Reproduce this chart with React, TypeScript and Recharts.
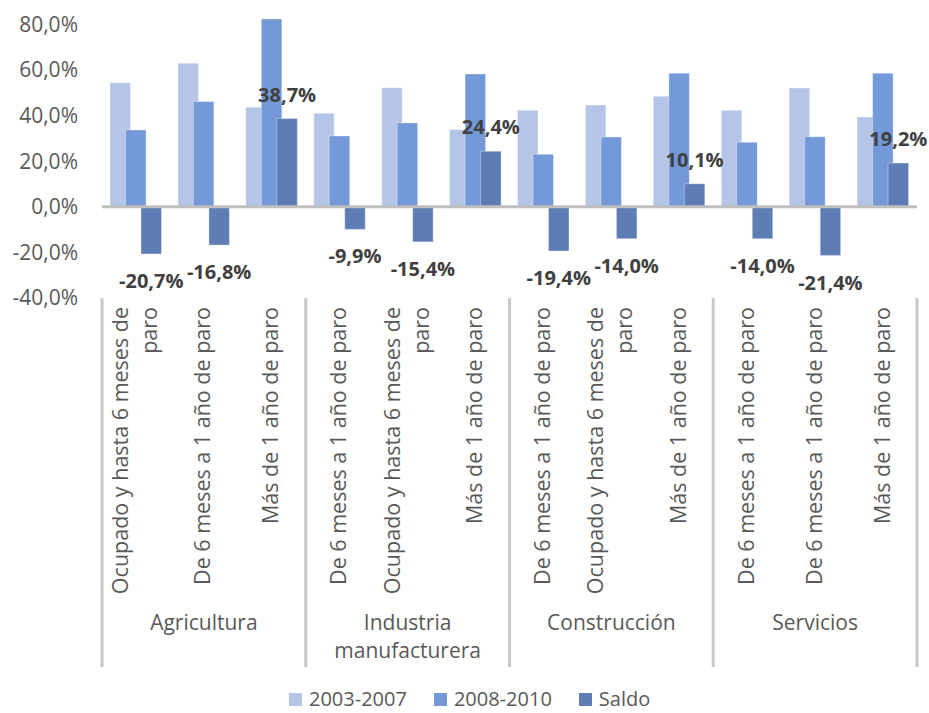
import { BarChart, Bar, XAxis, YAxis, ReferenceLine, Legend, LabelList } from "recharts";

const groups = ["Agricultura", "Industria manufacturera", "Construcción", "Servicios"];

const categories = [
  "Ocupado y hasta 6 meses de paro",
  "De 6 meses a 1 año de paro",
  "Más de 1 año de paro",
  "De 6 meses a 1 año de paro",
  "Ocupado y hasta 6 meses de paro",
  "Más de 1 año de paro",
  "De 6 meses a 1 año de paro",
  "Ocupado y hasta 6 meses de paro",
  "Más de 1 año de paro",
  "De 6 meses a 1 año de paro",
  "De 6 meses a 1 año de paro",
  "Más de 1 año de paro",
];

const periodo1 = [54.4, 63.0, 43.7, 41.0, 52.2, 33.9, 42.4, 44.6, 48.5, 42.3, 52.1, 39.4];
const periodo2 = [33.7, 46.2, 82.4, 31.1, 36.8, 58.3, 23.0, 30.6, 58.6, 28.3, 30.7, 58.6];
const saldo = [-20.7, -16.8, 38.7, -9.9, -15.4, 24.4, -19.4, -14.0, 10.1, -14.0, -21.4, 19.2];

const yTicks = [-40, -20, 0, 20, 40, 60, 80];

const seriesNames = ["2003-2007", "2008-2010", "Saldo"];
const colors = ["#b4c5e8", "#7399d8", "#5f7db5"];

const data = categories.map((c, i) => ({
  key: `${i}`,
  cat: c,
  group: groups[Math.floor(i / 3)],
  p1: periodo1[i],
  p2: periodo2[i],
  saldo: saldo[i],
}));

const FONT = "'Open Sans', sans-serif";
const fmt = (v: number) => `${v.toFixed(1).replace(".", ",")}%`;

// wrap long category names into two lines, last word on its own line
const wrap = (s: string) => {
  if (s.length <= 27) return [s];
  const k = s.lastIndexOf(" ");
  return [s.slice(0, k), s.slice(k + 1)];
};

const CategoryTick = (props: any) => {
  const { x, y, payload } = props;
  const i = payload.index;
  const half = payload.offset ?? 34;
  const lines = wrap(categories[i]);
  const top = y + 9;
  const sep = "#c8c8c8";
  const groupLines = i % 3 === 1 ? groups[Math.floor(i / 3)].split(" ") : [];
  return (
    <g>
      {lines.map((ln, k) => {
        const bx = x + 6.5 + (k - (lines.length - 1) / 2) * 29;
        return (
          <text
            key={k}
            x={bx}
            y={top}
            transform={`rotate(-90, ${bx}, ${top})`}
            textAnchor="end"
            fontSize={21.5}
            fontFamily={FONT}
            fill="#595959"
          >
            {ln}
          </text>
        );
      })}
      {i % 3 === 0 && <line x1={x - half} x2={x - half} y1={y} y2={y + 369} stroke={sep} strokeWidth={3} />}
      {i === categories.length - 1 && (
        <line x1={x + half} x2={x + half} y1={y} y2={y + 369} stroke={sep} strokeWidth={3} />
      )}
      {groupLines.map((g, k) => (
        <text key={`g${k}`} x={x} y={y + 332 + k * 28} textAnchor="middle" fontSize={21} fontFamily={FONT} fill="#595959">
          {g}
        </text>
      ))}
    </g>
  );
};

const SaldoLabel = (props: any) => {
  const { x, y, width, value } = props;
  const ty = value >= 0 ? y - 17 : y + 34;
  return (
    <text x={x + width / 2} y={ty} textAnchor="middle" fontSize={20} fontWeight="bold" fontFamily={FONT} fill="#404040">
      {fmt(value)}
    </text>
  );
};

const LegendContent = () => (
  <div style={{ display: "flex", alignItems: "center", fontFamily: FONT, fontSize: 20, color: "#595959", height: 28 }}>
    {seriesNames.map((n, i) => (
      <div key={n} style={{ display: "flex", alignItems: "center", marginRight: 27 }}>
        <span style={{ width: 13, height: 13, background: colors[i], display: "inline-block", marginRight: 7 }} />
        <span style={{ lineHeight: "28px" }}>{n}</span>
      </div>
    ))}
  </div>
);

export default function App() {
  return (
    <div style={{ position: "absolute", left: 0, top: 0, width: 929, height: 713, background: "#fff" }}>
      <BarChart
        width={929}
        height={713}
        data={data}
        margin={{ top: 13, right: 12, bottom: 0, left: 0 }}
        barSize={20.5}
        barGap={-5}
        barCategoryGap={0}
      >
        <XAxis
          dataKey="key"
          interval={0}
          height={415}
          axisLine={false}
          tickLine={false}
          tickSize={0}
          tickMargin={0}
          tick={<CategoryTick />}
        />
        <YAxis
          domain={[-40, 85]}
          ticks={yTicks}
          allowDataOverflow
          width={102}
          axisLine={false}
          tickLine={false}
          tickMargin={18}
          tickFormatter={fmt}
          tick={{ fontSize: 21, fontFamily: FONT, fill: "#595959" }}
        />
        <Bar dataKey="p1" name={seriesNames[0]} fill={colors[0]} stroke="#ffffff" strokeOpacity={0.35} isAnimationActive={false} />
        <Bar dataKey="p2" name={seriesNames[1]} fill={colors[1]} stroke="#ffffff" strokeOpacity={0.35} isAnimationActive={false} />
        <Bar dataKey="saldo" name={seriesNames[2]} fill={colors[2]} stroke="#ffffff" strokeOpacity={0.35} isAnimationActive={false}>
          <LabelList dataKey="saldo" content={<SaldoLabel />} />
        </Bar>
        <ReferenceLine y={0} stroke="#bfbfbf" strokeWidth={3} />
        <Legend
          layout="horizontal"
          verticalAlign="middle"
          align="center"
          wrapperStyle={{ top: 685, left: 289, width: 500, height: 28 }}
          content={<LegendContent />}
        />
      </BarChart>
    </div>
  );
}
